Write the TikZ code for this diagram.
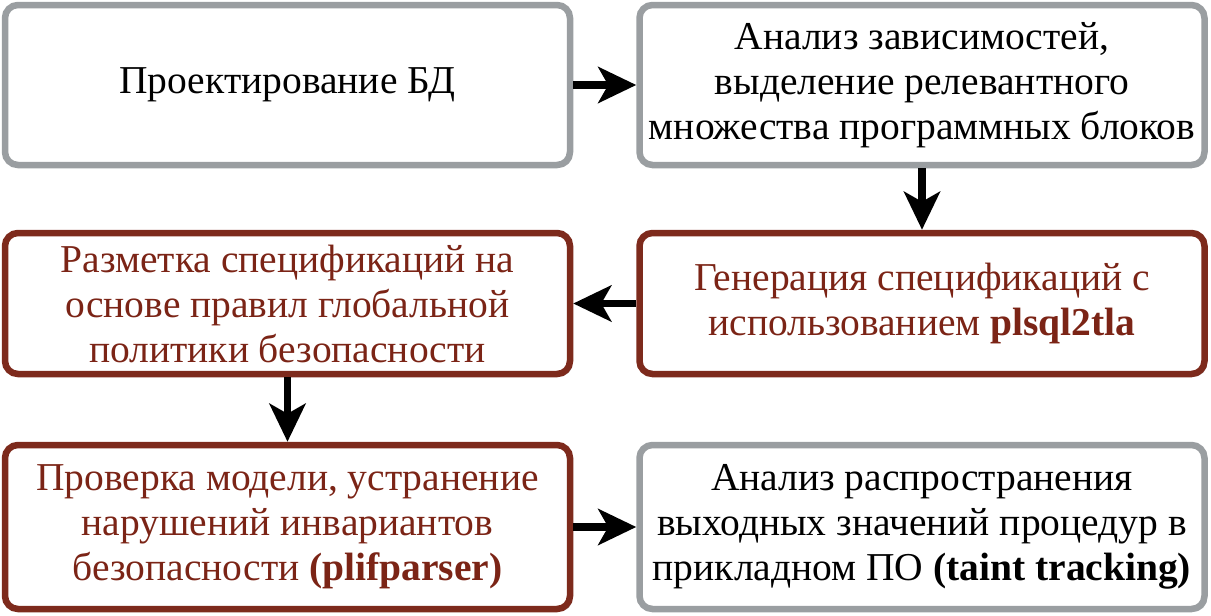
\documentclass[tikz,border=0pt]{standalone}
\usepackage{fontspec}
\setmainfont{Liberation Serif}
\usetikzlibrary{arrows.meta,shadows}
\definecolor{boxgray}{HTML}{9A9EA1}
\definecolor{boxred}{HTML}{7D2A1C}
\definecolor{txtred}{HTML}{7B2416}
\definecolor{shadowgray}{HTML}{C4C7C9}
\begin{document}
\begin{tikzpicture}[x=1pt,y=-1pt,
  box/.style={draw, line width=6.5pt, rounded corners=13pt, fill=white, inner sep=0pt,
    align=center, minimum width=565pt,
    font=\fontsize{39.5}{45}\selectfont,
    drop shadow={shadow xshift=2.5pt, shadow yshift=-2.5pt, fill=shadowgray, opacity=1}},
  graybox/.style={box, draw=boxgray, text=black},
  redbox/.style={box, draw=boxred, text=txtred},
  arr/.style={line width=7.5pt, -{Stealth[length=38pt,width=36pt,inset=10pt]}}
]
\useasboundingbox (0,0) rectangle (1211,616);
\node[graybox, minimum height=160pt] (b1) at (287.5,85) {Проектирование БД};
\node[graybox, minimum height=160pt] (b2) at (922,85) {Анализ зависимостей,\\ выделение релевантного\\ множества программных блоков};
\node[redbox, minimum height=141pt] (b3) at (287.5,303.5) {Разметка спецификаций на\\ основе правил глобальной\\ политики безопасности};
\node[redbox, minimum height=141pt] (b4) at (922,303.5) {Генерация спецификаций с\\ использованием \textbf{plsql2tla}};
\node[redbox, minimum height=164pt] (b5) at (287.5,527) {Проверка модели, устранение\\ нарушений инвариантов\\ безопасности \textbf{(plifparser)}};
\node[graybox, minimum height=164pt] (b6) at (922,527) {Анализ распространения\\ выходных значений процедур в\\ прикладном ПО \textbf{(taint tracking)}};
\draw[arr] (b1) -- (b2);
\draw[arr] (b2) -- (b4);
\draw[arr] (b4) -- (b3);
\draw[arr] (b3) -- (b5);
\draw[arr] (b5) -- (b6);
\end{tikzpicture}
\end{document}
